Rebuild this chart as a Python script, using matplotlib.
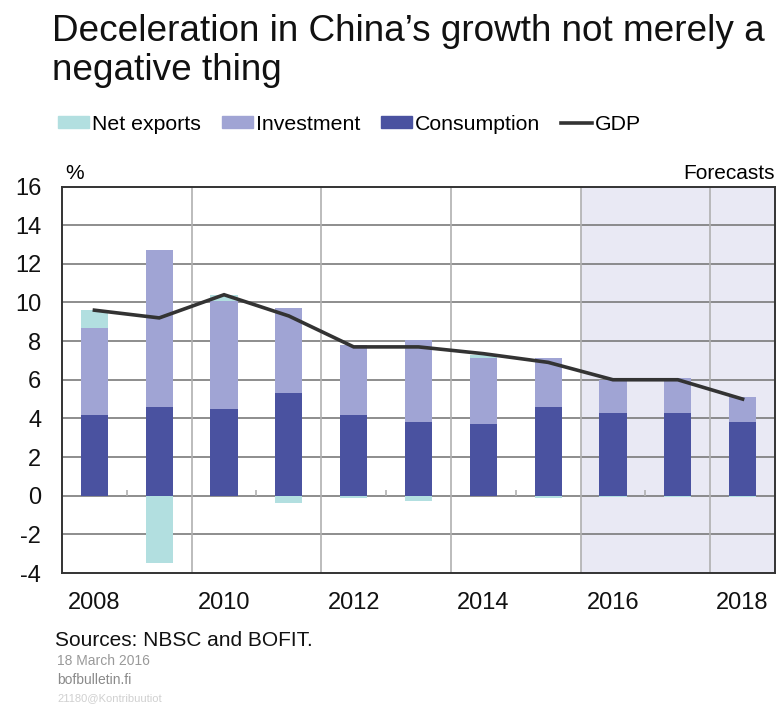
import numpy as np
import matplotlib
matplotlib.use("Agg")
import matplotlib.pyplot as plt
from matplotlib.patches import Patch
from matplotlib.lines import Line2D

#------------------------------------------------------------------------------------------
# Contributions to China's GDP growth, percentage points
#------------------------------------------------------------------------------------------

years = [2008, 2009, 2010, 2011, 2012, 2013, 2014, 2015, 2016, 2017, 2018]
consumption = [4.2, 4.6, 4.5, 5.3, 4.2, 3.8, 3.7, 4.6, 4.3, 4.3, 3.8]
investment = [4.5, 8.1, 5.6, 4.4, 3.6, 4.25, 3.4, 2.5, 1.7, 1.8, 1.3]
net_exports = [0.9, -3.5, 0.3, -0.4, -0.1, -0.3, 0.2, -0.1, -0.05, -0.05, -0.05]
gdp = [9.6, 9.2, 10.4, 9.3, 7.7, 7.7, 7.35, 6.9, 6.0, 6.0, 5.0]
year_labels = ['2008', '', '2010', '', '2012', '', '2014', '', '2016', '', '2018']
forecast_from = 2016

col_cons = '#4a52a0'
col_inv = '#a0a4d4'
col_net = '#b2dfe0'
col_gdp = '#333333'

plt.rcParams['font.family'] = ['Liberation Sans', 'DejaVu Sans']
plt.rcParams['axes.unicode_minus'] = False

fig = plt.figure(figsize=(7.77, 7.04), dpi=100)
ax = fig.add_axes([62 / 777, 1 - 573 / 704, 713 / 777, 386.5 / 704])

x = np.arange(len(years))
cons = np.array(consumption)
inv = np.array(investment)
net = np.array(net_exports)
width = 0.42

# forecast shading
fi = years.index(forecast_from)
ax.axvspan(fi - 0.5, len(years) - 0.5, color='#e9e9f4', zorder=0)

ax.bar(x, cons, width, color=col_cons, zorder=2)
ax.bar(x, inv, width, bottom=cons, color=col_inv, zorder=2)
net_bottom = np.where(net >= 0, cons + inv, 0)
ax.bar(x, net, width, bottom=net_bottom, color=col_net, zorder=2)
ax.plot(x, gdp, color=col_gdp, lw=2.6, zorder=3, solid_joinstyle='miter')

ax.set_xlim(-0.5, len(years) - 0.5)
ax.set_ylim(-4, 16)
ax.set_yticks(np.arange(-4, 17, 2))
ax.set_xticks(x)
ax.set_xticklabels(year_labels)

# grid
for yv in np.arange(-2, 16, 2):
    ax.axhline(yv, color='#7a7a7a', lw=1.2, zorder=1)
for xv in np.arange(1.5, len(years) - 0.5, 2):
    ax.axvline(xv, color='#b0b0b0', lw=1.2, zorder=1)
ax.vlines(np.arange(0.5, len(years) - 0.5, 2), 0, 0.3, color='#b0b0b0', lw=1.2, zorder=1)

ax.tick_params(axis='both', length=0, labelsize=17, colors='#111111')
ax.tick_params(axis='x', pad=14)
ax.tick_params(axis='y', pad=15)
for s in ax.spines.values():
    s.set_color('#333333')
    s.set_linewidth(1.4)
    s.set_zorder(4)

ax.text(0.004, 1.008, '%', transform=ax.transAxes, fontsize=15, ha='left', va='bottom')
ax.text(1.0, 1.008, 'Forecasts', transform=ax.transAxes, fontsize=15, ha='right', va='bottom')

# title
fig.text(52 / 777, 1 - 14 / 704, "Deceleration in China\u2019s growth not merely a\nnegative thing",
         fontsize=26.6, ha='left', va='top', linespacing=1.15, color='#111111')

# legend
handles = [Patch(color=col_net), Patch(color=col_inv), Patch(color=col_cons),
           Line2D([0], [0], color=col_gdp, lw=2.6)]
labels = ['Net exports', 'Investment', 'Consumption', 'GDP']
fig.legend(handles, labels, loc='center left', bbox_to_anchor=(58 / 777, 1 - 124 / 704),
           ncol=4, frameon=False, fontsize=15.3, handlelength=1.45, handleheight=0.55,
           handletextpad=0.15, columnspacing=0.98, borderaxespad=0, borderpad=0)

# footer
fig.text(55 / 777, 1 - 640 / 704, 'Sources: NBSC and BOFIT.', fontsize=15, ha='left', va='center', color='#111111')
fig.text(57 / 777, 1 - 661 / 704, '18 March 2016', fontsize=10, ha='left', va='center', color='#999999')
fig.text(57 / 777, 1 - 680 / 704, 'bofbulletin.fi', fontsize=10, ha='left', va='center', color='#8a8a8a')
fig.text(57 / 777, 1 - 698 / 704, '21180@Kontribuutiot', fontsize=8, ha='left', va='center', color='#d0d0d0')

plt.savefig('out.png', dpi=100)
